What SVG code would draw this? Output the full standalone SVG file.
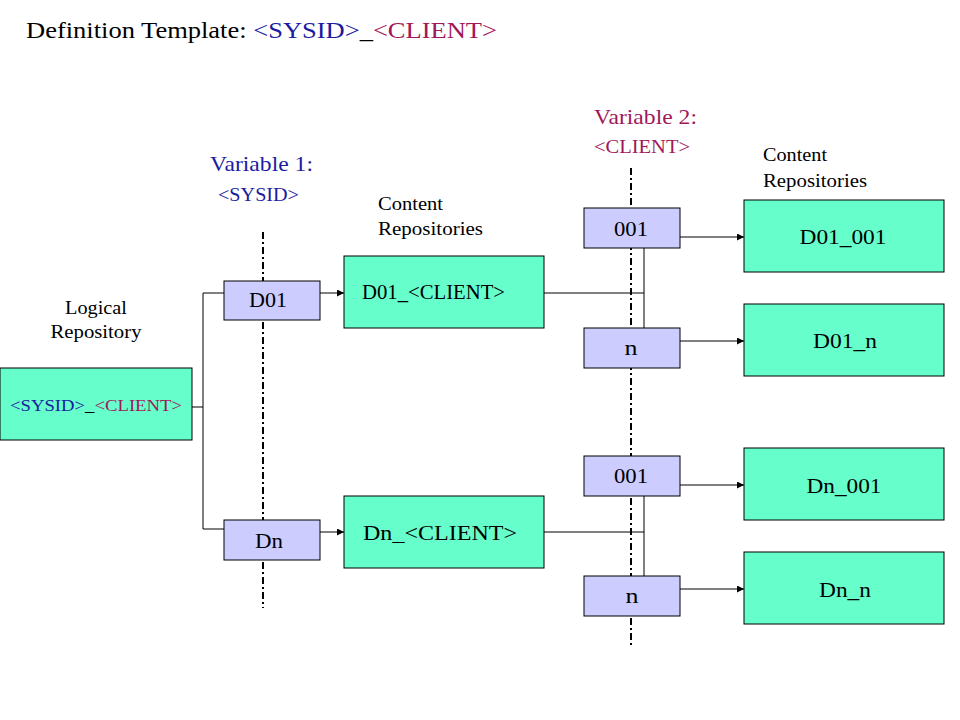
<svg xmlns="http://www.w3.org/2000/svg" width="960" height="720" viewBox="0 0 960 720">
<defs>
<style>
text{font-family:"Liberation Serif","DejaVu Serif",serif;fill:#000}
.green{fill:#66ffcc;stroke:#000;stroke-width:1}
.blue{fill:#ccccff;stroke:#000;stroke-width:1}
.ln{stroke:#000;stroke-width:1;fill:none}
.dd{stroke:#000;stroke-width:2;fill:none;stroke-dasharray:7 3 2 3}
.v1{fill:#1b1b9f}
.v2{fill:#a0185a}
.c{text-anchor:middle}
</style>
<marker id="ah" viewBox="0 0 10 10" refX="10" refY="5" markerWidth="8" markerHeight="7" markerUnits="userSpaceOnUse" orient="auto">
<path d="M0,0 L10,5 L0,10 z" fill="#000"/>
</marker>
</defs>
<rect width="960" height="720" fill="#fff"/>
<text x="26" y="38" font-size="23" textLength="471" lengthAdjust="spacingAndGlyphs">Definition Template: <tspan class="v1">&lt;SYSID&gt;</tspan>_<tspan class="v2">&lt;CLIENT&gt;</tspan></text>

<g id="labels">
<text x="96" y="314" font-size="19" class="c" textLength="62" lengthAdjust="spacingAndGlyphs">Logical</text>
<text x="96" y="338" font-size="19" class="c" textLength="91" lengthAdjust="spacingAndGlyphs">Repository</text>
<text x="210" y="171" font-size="21" class="v1" textLength="103" lengthAdjust="spacingAndGlyphs">Variable 1:</text>
<text x="218" y="201" font-size="18" class="v1" textLength="81" lengthAdjust="spacingAndGlyphs">&lt;SYSID&gt;</text>
<text x="378" y="210" font-size="19" textLength="65" lengthAdjust="spacingAndGlyphs">Content</text>
<text x="378" y="235" font-size="19" textLength="105" lengthAdjust="spacingAndGlyphs">Repositories</text>
<text x="594" y="124" font-size="21" class="v2" textLength="103" lengthAdjust="spacingAndGlyphs">Variable 2:</text>
<text x="594" y="153" font-size="18" class="v2" textLength="96" lengthAdjust="spacingAndGlyphs">&lt;CLIENT&gt;</text>
<text x="763" y="161" font-size="19" textLength="64" lengthAdjust="spacingAndGlyphs">Content</text>
<text x="763" y="187" font-size="19" textLength="104" lengthAdjust="spacingAndGlyphs">Repositories</text>
</g>

<g id="axes">
<line class="dd" x1="263" y1="232" x2="263" y2="608"/>
<line class="dd" x1="631" y1="168" x2="631" y2="648"/>
</g>

<g id="connectors">
<path class="ln" d="M192,407 H203 M203,293 V529 M203,293 H224 M203,529 H224"/>
<line class="ln" x1="320" y1="293" x2="344" y2="293" marker-end="url(#ah)"/>
<line class="ln" x1="320" y1="532" x2="344" y2="532" marker-end="url(#ah)"/>
<path class="ln" d="M544,293 H644 M644,248 V328"/>
<path class="ln" d="M544,532 H644 M644,496 V576"/>
<line class="ln" x1="680" y1="237" x2="744" y2="237" marker-end="url(#ah)"/>
<line class="ln" x1="680" y1="341" x2="744" y2="341" marker-end="url(#ah)"/>
<line class="ln" x1="680" y1="485" x2="744" y2="485" marker-end="url(#ah)"/>
<line class="ln" x1="680" y1="589" x2="744" y2="589" marker-end="url(#ah)"/>
</g>

<g id="logical">
<rect class="green" x="0" y="368" width="192" height="72"/>
<text x="10" y="411" font-size="16" textLength="172" lengthAdjust="spacingAndGlyphs"><tspan class="v1">&lt;SYSID&gt;</tspan>_<tspan class="v2">&lt;CLIENT&gt;</tspan></text>
</g>
<g id="d01">
<rect class="blue" x="224" y="281" width="96" height="39"/>
<text x="268" y="307" font-size="20" class="c" textLength="38" lengthAdjust="spacingAndGlyphs">D01</text>
</g>
<g id="dn">
<rect class="blue" x="224" y="520" width="96" height="40"/>
<text x="269" y="548" font-size="20" class="c" textLength="28" lengthAdjust="spacingAndGlyphs">Dn</text>
</g>
<g id="d01_client">
<rect class="green" x="344" y="256" width="200" height="72"/>
<text x="362" y="299" font-size="21" textLength="143" lengthAdjust="spacingAndGlyphs">D01_&lt;CLIENT&gt;</text>
</g>
<g id="dn_client">
<rect class="green" x="344" y="496" width="200" height="72"/>
<text x="363" y="540" font-size="22" textLength="154" lengthAdjust="spacingAndGlyphs">Dn_&lt;CLIENT&gt;</text>
</g>
<g id="c001a">
<rect class="blue" x="584" y="208" width="96" height="40"/>
<text x="631" y="236" font-size="20" class="c" textLength="34" lengthAdjust="spacingAndGlyphs">001</text>
</g>
<g id="cna">
<rect class="blue" x="584" y="328" width="96" height="40"/>
<text x="631" y="355" font-size="20" class="c" textLength="13" lengthAdjust="spacingAndGlyphs">n</text>
</g>
<g id="c001b">
<rect class="blue" x="584" y="456" width="96" height="40"/>
<text x="631" y="483" font-size="20" class="c" textLength="34" lengthAdjust="spacingAndGlyphs">001</text>
</g>
<g id="cnb">
<rect class="blue" x="584" y="576" width="96" height="40"/>
<text x="632" y="603" font-size="20" class="c" textLength="13" lengthAdjust="spacingAndGlyphs">n</text>
</g>
<g id="d01_001">
<rect class="green" x="744" y="200" width="200" height="72"/>
<text x="843" y="244" font-size="21" class="c" textLength="87" lengthAdjust="spacingAndGlyphs">D01_001</text>
</g>
<g id="d01_n">
<rect class="green" x="744" y="304" width="200" height="72"/>
<text x="845" y="348" font-size="21" class="c" textLength="64" lengthAdjust="spacingAndGlyphs">D01_n</text>
</g>
<g id="dn_001">
<rect class="green" x="744" y="448" width="200" height="72"/>
<text x="844" y="493" font-size="21" class="c" textLength="75" lengthAdjust="spacingAndGlyphs">Dn_001</text>
</g>
<g id="dn_n">
<rect class="green" x="744" y="552" width="200" height="72"/>
<text x="845" y="597" font-size="21" class="c" textLength="52" lengthAdjust="spacingAndGlyphs">Dn_n</text>
</g>
</svg>
